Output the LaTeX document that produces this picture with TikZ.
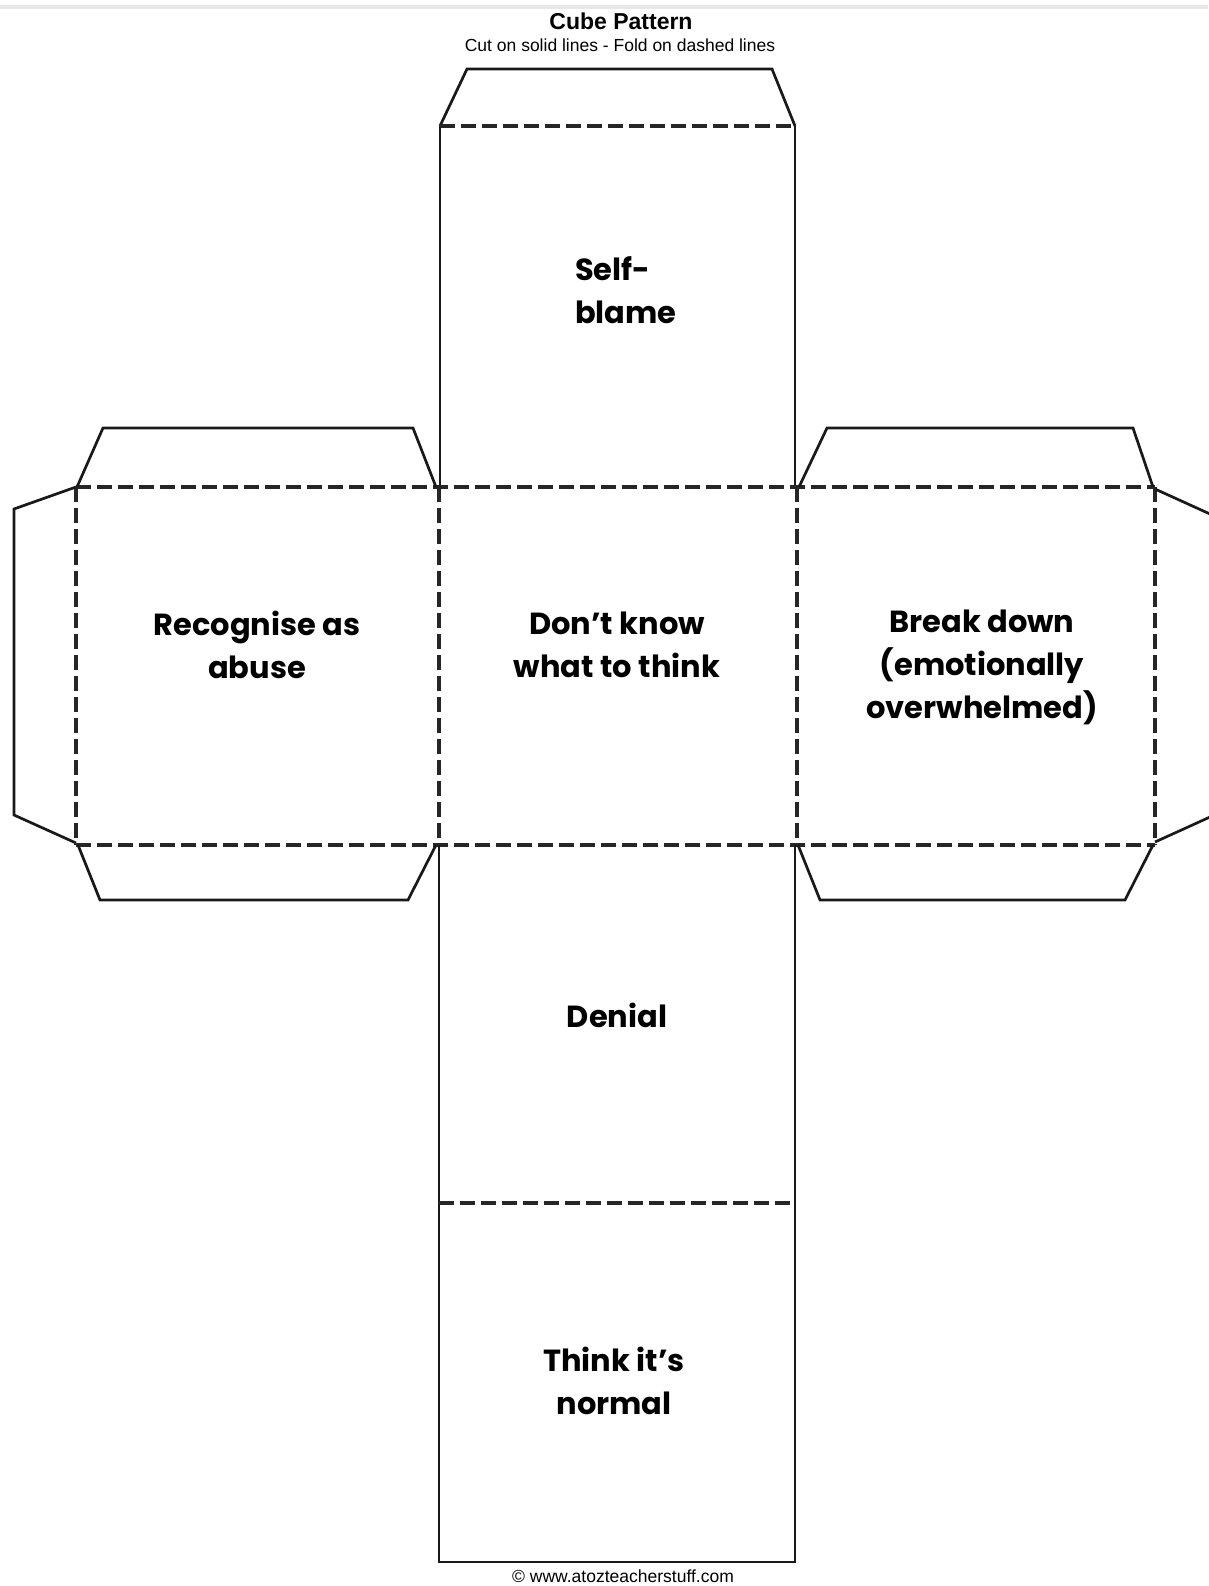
\documentclass[tikz,border=0pt]{standalone}
\usepackage{fontspec}
\setmainfont{Liberation Sans}
\newfontfamily\labfont{Poppins}
\tikzset{
  cut/.style={line width=2.7pt, line join=miter, black!90},
  fold/.style={line width=3.8pt, dash pattern=on 15pt off 6pt, black!85},
  lab/.style={font=\labfont\bfseries\fontsize{30.5}{43}\selectfont, align=center, inner sep=0pt},
}
\begin{document}
\begin{tikzpicture}[x=1pt,y=-1pt]
\useasboundingbox (0,0) rectangle (1208,1586);
\fill[gray!18] (0,5) rectangle (1208,9);
% title
\node[font=\bfseries\fontsize{23}{26}\selectfont] (title) at (621,21) {Cube Pattern};
\node[font=\fontsize{17.5}{20}\selectfont] (sub) at (620,45) {Cut on solid lines - Fold on dashed lines};
% top tab and top face
\draw[cut] (440,126) -- (467,69) -- (772,69) -- (795,126);
\draw[cut] (440,126) -- (440,487);
\draw[cut] (795,126) -- (795,487);
\draw[fold] (440,126) -- (795,126);
% middle row dashed
\draw[fold] (76,487) -- (1155,487);
\draw[fold] (76,845) -- (1155,845);
\draw[fold] (76,487) -- (76,845);
\draw[fold] (439,487) -- (439,845);
\draw[fold] (797,487) -- (797,845);
\draw[fold] (1155,487) -- (1155,845);
% left flaps
\draw[cut] (77,487) -- (103,428) -- (413,428) -- (436,487);
\draw[cut] (78,845) -- (100,900) -- (408,900) -- (436,845);
\draw[cut] (76,487) -- (14,509) -- (14,815) -- (76,843);
% right flaps
\draw[cut] (799,487) -- (827,428) -- (1133,428) -- (1153,487);
\draw[cut] (798,845) -- (820,900) -- (1125,900) -- (1153,845);
\draw[cut] (1155,489) -- (1210,514);
\draw[cut] (1155,842) -- (1210,817);
% bottom faces
\draw[cut] (439,845) -- (439,1562) -- (795,1562) -- (795,845);
\draw[fold] (439,1203) -- (795,1203);
% labels
\node[lab, align=left, anchor=west] (selfblame) at (575,290) {Self-\\blame};
\node[lab] (recog) at (257,645) {Recognise as\\abuse};
\node[lab] (dont) at (617,645) {Don’t know\\what to think};
\node[lab] (break) at (982,667) {Break down\\(emotionally\\overwhelmed)};
\node[lab] (denial) at (617,1015) {Denial};
\node[lab] (normal) at (614,1381) {Think it’s\\normal};
\node[font=\fontsize{17.5}{20}\selectfont] (foot) at (623,1576) {© www.atozteacherstuff.com};
\end{tikzpicture}
\end{document}
